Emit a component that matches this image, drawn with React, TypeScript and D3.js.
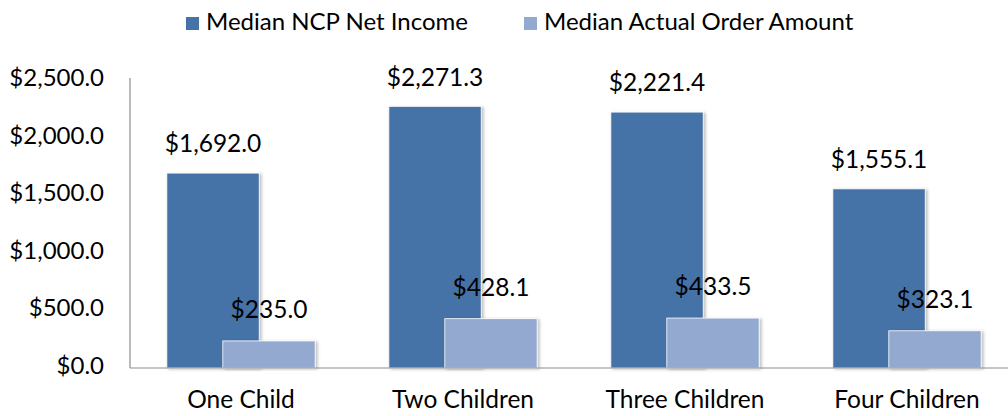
import * as d3 from "d3"

const categories = ["One Child", "Two Children", "Three Children", "Four Children"]
const netIncome = [1692.0, 2271.3, 2221.4, 1555.1]
const orderAmount = [235.0, 428.1, 433.5, 323.1]
const seriesNames = ["Median NCP Net Income", "Median Actual Order Amount"]
const yTicks = [0, 500, 1000, 1500, 2000, 2500]

const colors = ["#4572a7", "#94a9cf"]
const font = "Lato, 'Open Sans', sans-serif"

export default function App() {
  const width = 1008
  const height = 416
  const margin = { top: 80, right: -10, bottom: 48, left: 130 }

  const x = d3
    .scaleBand()
    .domain(categories)
    .range([margin.left, width - margin.right])
    .padding(0)

  const y = d3
    .scaleLinear()
    .domain([0, 2500])
    .range([height - margin.bottom, margin.top])

  const bw = x.bandwidth()
  const barW = bw * 0.416
  const step = bw * 0.252
  const fmt = (v: number) => "$" + d3.format(",.1f")(v)
  const base = y(0)
  const fs = 24.5

  return (
    <svg
      width={width}
      height={height}
      style={{ position: "fixed", left: 0, top: 0, background: "#fff" }}
      fontFamily={font}
    >
      <defs>
        <filter id="shadow" x="-10%" y="-10%" width="130%" height="120%">
          <feDropShadow dx="2" dy="1" stdDeviation="1.5" floodColor="#000" floodOpacity="0.25" />
        </filter>
      </defs>

      {/* Legend */}
      <g>
        <rect x={186} y={17} width={13} height={13} fill={colors[0]} />
        <text x={206} y={24} dominantBaseline="middle" fontSize={24} fill="#000">
          {seriesNames[0]}
        </text>
        <rect x={524} y={17} width={13} height={13} fill={colors[1]} />
        <text x={544} y={24} dominantBaseline="middle" fontSize={24} fill="#000">
          {seriesNames[1]}
        </text>
      </g>

      {/* Y axis labels */}
      {yTicks.map((t) => (
        <text
          key={t}
          x={104}
          y={y(t)}
          textAnchor="end"
          dominantBaseline="middle"
          fontSize={24}
          fill="#000"
        >
          {fmt(t)}
        </text>
      ))}

      {/* Bars */}
      {categories.map((c, i) => {
        const cx = (x(c) || 0) + bw / 2
        const x0 = cx - (barW + step) / 2
        const x1 = x0 + step
        const yd = y(netIncome[i])
        const yl = y(orderAmount[i])
        return (
          <g key={c}>
            <rect
              x={x0}
              y={yd}
              width={barW}
              height={base - yd}
              fill={colors[0]}
              stroke="#fff"
              strokeWidth={0.8}
              filter="url(#shadow)"
            />
            <rect
              x={x1}
              y={yl}
              width={barW}
              height={base - yl}
              fill={colors[1]}
              stroke="#fff"
              strokeWidth={0.8}
              filter="url(#shadow)"
            />
            <text
              x={x0 + barW / 2}
              y={yd - 27}
              textAnchor="middle"
              dominantBaseline="middle"
              fontSize={fs}
              fill="#000"
            >
              {fmt(netIncome[i])}
            </text>
            <text
              x={x1 + barW / 2}
              y={yl - 29}
              textAnchor="middle"
              dominantBaseline="middle"
              fontSize={fs}
              fill="#000"
            >
              {fmt(orderAmount[i])}
            </text>
            <text
              x={cx}
              y={402}
              textAnchor="middle"
              dominantBaseline="middle"
              fontSize={fs}
              fill="#000"
            >
              {c}
            </text>
          </g>
        )
      })}

      {/* Axis lines */}
      <line x1={margin.left} x2={margin.left} y1={78} y2={base} stroke="#8c8c8c" strokeWidth={1.2} />
      <line x1={margin.left} x2={width} y1={base} y2={base} stroke="#8c8c8c" strokeWidth={1.2} />
    </svg>
  )
}
